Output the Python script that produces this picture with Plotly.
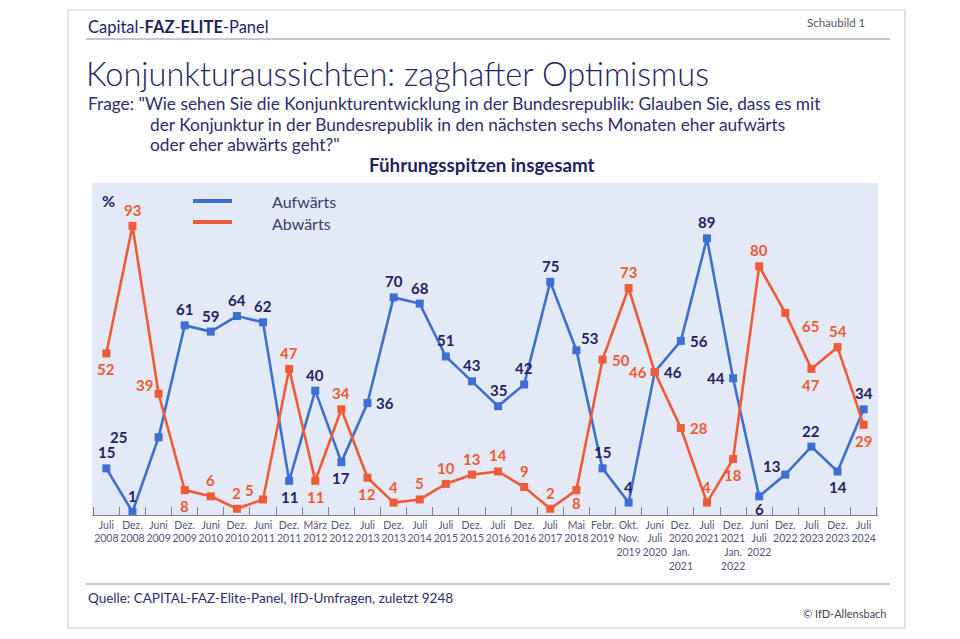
import plotly.graph_objects as go

# ---------------- data ----------------
categories = [
    "Juli<br>2008", "Dez.<br>2008", "Juni<br>2009", "Dez.<br>2009", "Juni<br>2010",
    "Dez.<br>2010", "Juni<br>2011", "Dez.<br>2011", "März<br>2012", "Dez.<br>2012",
    "Juli<br>2013", "Dez.<br>2013", "Juli<br>2014", "Juli<br>2015", "Dez.<br>2015",
    "Juli<br>2016", "Dez.<br>2016", "Juli<br>2017", "Mai<br>2018", "Febr.<br>2019",
    "Okt.<br>Nov.<br>2019", "Juni<br>Juli<br>2020", "Dez.<br>2020<br>Jan.<br>2021",
    "Juli<br>2021", "Dez.<br>2021<br>Jan.<br>2022", "Juni<br>Juli<br>2022",
    "Dez.<br>2022", "Juli<br>2023", "Dez.<br>2023", "Juli<br>2024",
]
aufwaerts = [15, 1, 25, 61, 59, 64, 62, 11, 40, 17, 36, 70, 68, 51, 43,
             35, 42, 75, 53, 15, 4, 46, 56, 89, 44, 6, 13, 22, 14, 34]
abwaerts = [52, 93, 39, 8, 6, 2, 5, 47, 11, 34, 12, 4, 5, 10, 13,
            14, 9, 2, 8, 50, 73, 46, 28, 4, 18, 80, 65, 47, 54, 29]

# label placement codes (style, not data)
auf_pos = ["t", "t", "ll", "t", "t", "t", "t", "b", "t", "b", "r", "t", "t", "t", "t",
           "t", "t", "t", "tr", "t", "t", "r", "r", "t", "l", "bs", "tl", "t", "b", "t"]
ab_pos = ["b", "t", "tl", "b", "t", "t", "tl", "t", "b", "t", "b", "t", "t", "t", "t",
          "t", "t", "t", "bs", "r", "t", "l", "r", "t", "b", "t", "br", "b", "t", "b"]

OFF = {"t": (0, -16), "b": (0, 16), "bs": (0, 13), "l": (-17, 0), "r": (18, 0),
       "ll": (-40, 0), "tl": (-14, -9), "tr": (13, -12), "br": (25, 13)}

BLUE = "#3d6fd2"
ORANGE = "#ef5b36"
NAVY = "#221f66"
BG = "#e3eaf6"
FONT = "Lato"

W, H = 960, 639
L, R, T, B = 92, 878, 183, 515


def px(x):
    return (x - L) / (R - L)


def py(y):
    return (B - y) / (B - T)


fig = go.Figure()
fig.add_trace(go.Scatter(x=categories, y=aufwaerts, mode="lines+markers", name="Aufwärts",
                         line=dict(color=BLUE, width=2.6),
                         marker=dict(symbol="square", size=8, color=BLUE),
                         showlegend=False))
fig.add_trace(go.Scatter(x=categories, y=abwaerts, mode="lines+markers", name="Abwärts",
                         line=dict(color=ORANGE, width=2.6),
                         marker=dict(symbol="square", size=8, color=ORANGE),
                         showlegend=False))

ann = []
for vals, pos, col in ((aufwaerts, auf_pos, NAVY), (abwaerts, ab_pos, ORANGE)):
    for c, v, p in zip(categories, vals, pos):
        dx, dy = OFF[p]
        ann.append(dict(x=c, y=v, xref="x", yref="y", text=str(v), showarrow=False,
                        xshift=dx, yshift=-dy,
                        font=dict(family=FONT, size=15, color=col, weight=700)))


def ptext(x, y, text, size, color, anchor="left", weight=400, yanchor="middle"):
    ann.append(dict(x=px(x), y=py(y), xref="paper", yref="paper", text=text,
                    showarrow=False, xanchor=anchor, yanchor=yanchor, align="left",
                    font=dict(family=FONT, size=size, color=color, weight=weight)))


# header & titles
ptext(86, 27, "Capital-<b>FAZ</b>-<b>ELITE</b>-Panel", 16.5, NAVY)
ptext(867, 22, "Schaubild 1", 11.5, "#555566", anchor="right")
ptext(84, 73, "Konjunkturaussichten: zaghafter Optimismus", 32.5, NAVY, weight=300)
ptext(86, 104, 'Frage: "Wie sehen Sie die Konjunkturentwicklung in der Bundesrepublik: Glauben Sie, dass es mit',
      17.3, "#2e2c70")
ptext(148, 124, "der Konjunktur in der Bundesrepublik in den nächsten sechs Monaten eher aufwärts", 17.3, "#2e2c70")
ptext(148, 144, 'oder eher abwärts geht?"', 17.3, "#2e2c70")
ptext(482, 164, "Führungsspitzen insgesamt", 18.8, NAVY, anchor="center", weight=700)
# legend & unit
ptext(108, 200, "%", 16, NAVY, anchor="center", weight=700)
ptext(270, 201, "Aufwärts", 16, "#3a3a6e")
ptext(270, 223, "Abwärts", 16, "#3a3a6e")
# footer
ptext(86, 598, "Quelle: CAPITAL-FAZ-Elite-Panel, IfD-Umfragen, zuletzt 9248", 13.5, "#2e2c70")
ptext(889, 613, "© IfD-Allensbach", 11, "#444455", anchor="right")

shapes = [
    dict(type="rect", xref="paper", yref="paper", x0=px(68), x1=px(905), y0=py(628), y1=py(10),
         line=dict(color="#cfcfd6", width=1.2), layer="below"),
    dict(type="line", xref="paper", yref="paper", x0=px(86), x1=px(890), y0=py(39), y1=py(39),
         line=dict(color="#8e8cae", width=1.2)),
    dict(type="line", xref="paper", yref="paper", x0=px(86), x1=px(890), y0=py(584), y1=py(584),
         line=dict(color="#8e8cae", width=1.2)),
    dict(type="line", xref="paper", yref="paper", x0=px(193), x1=px(232), y0=py(201), y1=py(201),
         line=dict(color=BLUE, width=4)),
    dict(type="line", xref="paper", yref="paper", x0=px(193), x1=px(232), y0=py(222), y1=py(222),
         line=dict(color=ORANGE, width=4)),
]

fig.update_layout(
    width=W, height=H,
    margin=dict(l=L, r=W - R, t=T, b=H - B, pad=0),
    paper_bgcolor="white", plot_bgcolor=BG,
    annotations=ann, shapes=shapes,
    xaxis=dict(type="category", range=[-0.55, 29.55], showgrid=False, zeroline=False,
               ticks="inside", tickson="boundaries", ticklen=8, tickwidth=1.2,
               tickcolor="#7d7d96", showline=True, linecolor="#7d7d96", linewidth=1.2,
               tickfont=dict(family=FONT, size=10.5, color="#55557a"), tickangle=0,
               fixedrange=True),
    yaxis=dict(range=[0, 106.8], showgrid=False, zeroline=False, showticklabels=False,
               showline=False, ticks="", fixedrange=True),
    font=dict(family=FONT),
)

fig.write_html("out.html", config={"displayModeBar": False},
               post_script="document.body.style.margin='0px';")
